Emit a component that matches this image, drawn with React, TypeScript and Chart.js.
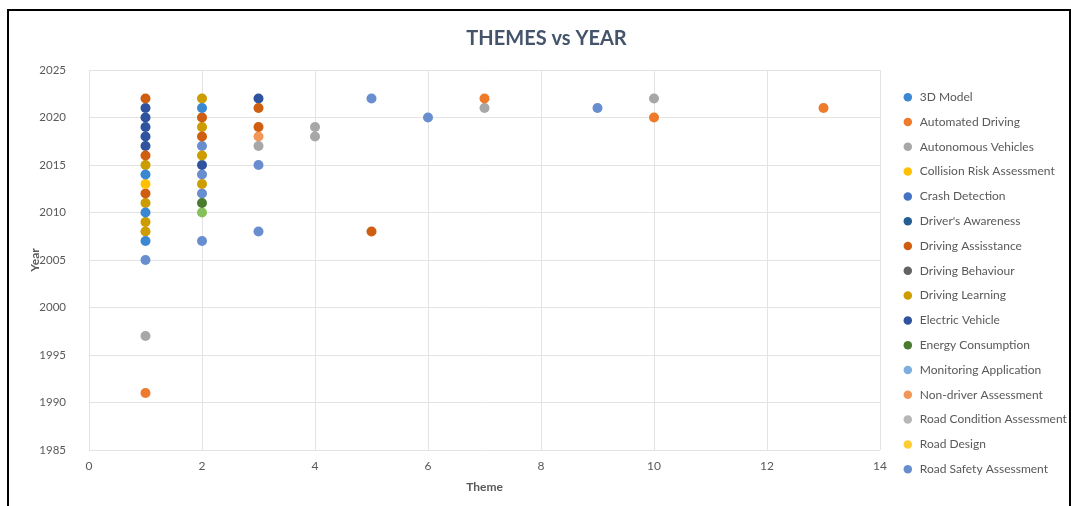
import React, { useEffect, useRef } from "react";
import { Chart, registerables } from "chart.js";

Chart.register(...registerables);

const chartTitle = "THEMES vs YEAR";
const xAxisTitle = "Theme";
const yAxisTitle = "Year";
const xMin = 0;
const xMax = 14;
const xStep = 2;
const yMin = 1985;
const yMax = 2025;
const yStep = 5;

const seriesNames = [
  "3D Model",
  "Automated Driving",
  "Autonomous Vehicles",
  "Collision Risk Assessment",
  "Crash Detection",
  "Driver's Awareness",
  "Driving Assisstance",
  "Driving Behaviour",
  "Driving Learning",
  "Electric Vehicle",
  "Energy Consumption",
  "Monitoring Application",
  "Non-driver Assessment",
  "Road Condition Assessment",
  "Road Design",
  "Road Safety Assessment",
  "Other",
];

const seriesColors = [
  "#3A87D2",
  "#EE7A2C",
  "#A7A7A7",
  "#FFC000",
  "#4472C4",
  "#255E91",
  "#CF5E10",
  "#636363",
  "#CC9C00",
  "#2F539E",
  "#4A7A2E",
  "#7CAFDD",
  "#F1975A",
  "#B7B7B7",
  "#FFCD33",
  "#698ED0",
  "#86C05A",
];

// Theme count (x) and year (y) per series
const model3dX = [1, 1, 1, 2];
const model3dY = [2014, 2010, 2007, 2021];
const automatedX = [1, 7, 10, 13];
const automatedY = [1991, 2022, 2020, 2021];
const autonomousX = [1, 3, 4, 4, 7, 10];
const autonomousY = [1997, 2017, 2019, 2018, 2021, 2022];
const collisionX = [1];
const collisionY = [2013];
const crashX: number[] = [];
const crashY: number[] = [];
const awarenessX: number[] = [];
const awarenessY: number[] = [];
const assistanceX = [1, 1, 1, 2, 2, 3, 3, 5];
const assistanceY = [2022, 2016, 2012, 2020, 2018, 2021, 2019, 2008];
const behaviourX: number[] = [];
const behaviourY: number[] = [];
const learningX = [1, 1, 1, 1, 2, 2, 2, 2];
const learningY = [2015, 2011, 2009, 2008, 2022, 2019, 2016, 2013];
const electricX = [1, 1, 1, 1, 1, 2, 3];
const electricY = [2021, 2020, 2019, 2018, 2017, 2015, 2022];
const energyX = [2];
const energyY = [2011];
const monitoringX: number[] = [];
const monitoringY: number[] = [];
const nonDriverX = [3];
const nonDriverY = [2018];
const roadConditionX: number[] = [];
const roadConditionY: number[] = [];
const roadDesignX: number[] = [];
const roadDesignY: number[] = [];
const roadSafetyX = [1, 2, 2, 2, 2, 3, 3, 5, 6, 9];
const roadSafetyY = [2005, 2017, 2014, 2012, 2007, 2015, 2008, 2022, 2020, 2021];
const otherX = [2];
const otherY = [2010];

const seriesX = [
  model3dX, automatedX, autonomousX, collisionX, crashX, awarenessX, assistanceX,
  behaviourX, learningX, electricX, energyX, monitoringX, nonDriverX,
  roadConditionX, roadDesignX, roadSafetyX, otherX,
];
const seriesY = [
  model3dY, automatedY, autonomousY, collisionY, crashY, awarenessY, assistanceY,
  behaviourY, learningY, electricY, energyY, monitoringY, nonDriverY,
  roadConditionY, roadDesignY, roadSafetyY, otherY,
];

const legendCount = 16;

export default function App() {
  const canvasRef = useRef<HTMLCanvasElement | null>(null);

  useEffect(() => {
    if (!canvasRef.current) return;
    Chart.defaults.font.family = "Lato, 'Open Sans', sans-serif";
    const datasets = seriesNames.map((name, i) => ({
      label: name,
      data: seriesX[i].map((x, j) => ({ x, y: seriesY[i][j] })),
      backgroundColor: seriesColors[i],
      borderColor: seriesColors[i],
      borderWidth: 0,
      pointRadius: 5,
      pointHoverRadius: 5,
      pointStyle: "circle" as const,
    }));
    const chart = new Chart(canvasRef.current, {
      type: "scatter",
      data: { datasets },
      options: {
        animation: false,
        responsive: false,
        maintainAspectRatio: false,
        layout: { padding: { top: 0, left: 24, right: 2, bottom: 0 } },
        plugins: {
          title: {
            display: true,
            text: chartTitle,
            color: "#44546A",
            font: { size: 20, weight: "bold" },
            padding: { top: 27, bottom: 19 },
          },
          legend: {
            position: "right",
            align: "start",
            maxWidth: 180,
            title: { display: true, text: "", padding: { top: 64, bottom: 0 } },
            labels: {
              usePointStyle: true,
              boxWidth: 12,
              boxHeight: 6,
              padding: 12.8,
              color: "#595959",
              font: { size: 12 },
              filter: (item) => (item.datasetIndex ?? 0) < legendCount,
            },
          },
          tooltip: { enabled: false },
        },
        scales: {
          x: {
            type: "linear",
            position: "bottom",
            min: xMin,
            max: xMax,
            ticks: { stepSize: xStep, color: "#595959", font: { size: 12 }, padding: 9 },
            grid: { color: "#E3E3E3", drawTicks: false },
            border: { display: false },
            title: {
              display: true,
              text: xAxisTitle,
              color: "#595959",
              font: { size: 12, weight: "bold" },
              padding: { top: 0, bottom: 12 },
            },
            afterFit: (scale) => {
              scale.height = 56;
            },
          },
          y: {
            type: "linear",
            position: "left",
            min: yMin,
            max: yMax,
            ticks: {
              stepSize: yStep,
              color: "#595959",
              font: { size: 11.5 },
              padding: 23,
              callback: (v) => String(v),
            },
            grid: { color: "#E3E3E3", drawTicks: false },
            border: { display: false },
            title: {
              display: true,
              text: yAxisTitle,
              color: "#595959",
              font: { size: 12, weight: "bold" },
              padding: { top: 4, bottom: 0 },
            },
            afterFit: (scale) => {
              scale.width = 65;
            },
          },
          spacer: {
            type: "linear",
            position: "right",
            display: true,
            ticks: { display: false },
            grid: { display: false, drawTicks: false },
            border: { display: false },
            afterFit: (scale) => {
              scale.width = 9;
            },
          },
        },
      },
    });
    return () => chart.destroy();
  }, []);

  return (
    <div style={{ position: "absolute", left: 0, top: 0, width: 1071, height: 506, background: "#fff" }}>
      <canvas ref={canvasRef} width={1071} height={506} style={{ position: "absolute", left: 0, top: 0, width: 1071, height: 506 }} />
      <div
        style={{
          position: "absolute",
          left: 7,
          top: 9,
          width: 1060,
          height: 510,
          borderTop: "2px solid #000",
          borderLeft: "2px solid #000",
          borderRight: "2px solid #000",
          pointerEvents: "none",
        }}
      />
    </div>
  );
}
